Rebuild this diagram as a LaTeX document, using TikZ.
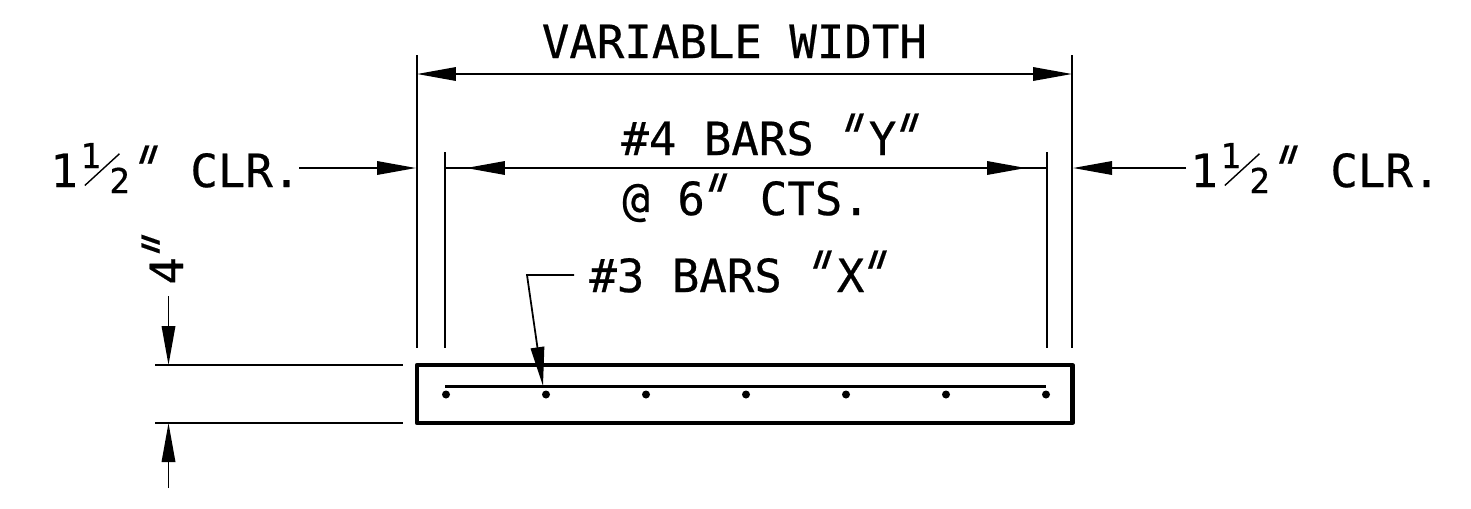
\documentclass[tikz,border=0pt]{standalone}
\usepackage{fontspec}
\setmainfont[FakeBold=0.5]{DejaVu Sans Mono}
\newfontfamily\inchfont[FakeSlant=0.5,FakeBold=0.3]{DejaVu Sans Mono}
\usetikzlibrary{arrows.meta}
\newcommand{\inchmark}{\makebox[0.55cm][c]{\raisebox{-0.15em}{\scalebox{1}[1.45]{\hspace{-0.62em}{\inchfont"}}}}}
\newcommand{\halfmark}{\makebox[1.15cm][l]{%
	\rlap{\hspace{0.05cm}\raisebox{0.38cm}{\fontsize{19.5}{19.5}\selectfont 1}}%
	\rlap{\hspace{0.13cm}\raisebox{0.02cm}{\rotatebox[origin=lb]{42.5}{\rule{0.94cm}{0.8pt}}}}%
	\rlap{\hspace{0.63cm}\raisebox{-0.12cm}{\fontsize{19.5}{19.5}\selectfont 2}}}}

\tikzset{
	dimline/.style={line width=1pt},
	barline/.style={line width=1.2pt},
	dimarrow/.style={line width=1pt, {Triangle[length=0.78cm,width=0.27cm]}-{Triangle[length=0.78cm,width=0.27cm]}},
	headarrow/.style={line width=1pt, -{Triangle[length=0.78cm,width=0.27cm]}},
	slab/.style={line width=2.4pt, line join=round},
	label/.style={inner sep=0pt, anchor=base west, font=\fontsize{26}{26}\selectfont}
}

\begin{document}
\begin{tikzpicture}[x=0.02cm, y=-0.02cm]
	%%%%% START %%%%%
	\useasboundingbox (0, 0) rectangle (1471, 508);

	\coordinate (slabA) at (417, 365);
	\coordinate (slabB) at (1072.5, 423);
	\coordinate (barA) at (445, 386.5);
	\coordinate (barB) at (1046, 386.5);

	\draw[slab] (slabA) rectangle (slabB);
	\draw[barline] (barA) -- (barB);
	\foreach \px [count=\n] in {446, 546, 646, 746, 846, 946, 1046} {
		\fill (\px, 394.5) circle (4) coordinate (dot\n);
	}

	% witness lines
	\coordinate (outerAtop) at (417, 55);
	\coordinate (outerAbot) at (417, 348);
	\coordinate (outerBtop) at (1072, 55);
	\coordinate (outerBbot) at (1072, 348);
	\coordinate (innerAtop) at (445, 152);
	\coordinate (innerAbot) at (445, 348);
	\coordinate (innerBtop) at (1047, 152);
	\coordinate (innerBbot) at (1047, 348);
	\draw[dimline] (outerAtop) -- (outerAbot);
	\draw[dimline] (outerBtop) -- (outerBbot);
	\draw[dimline] (innerAtop) -- (innerAbot);
	\draw[dimline] (innerBtop) -- (innerBbot);

	% overall width
	\node[label] (width) at (541.5, 58) {VARIABLE WIDTH};
	\coordinate (widthA) at (417, 74);
	\coordinate (widthB) at (1072, 74);
	\draw[dimarrow] (widthA) -- (widthB);

	% bar spacing
	\node[label] (barsY) at (621, 155) {\#4 BARS \inchmark Y\inchmark};
	\node[label] (spacing) at (622, 215) {@ 6\inchmark{} CTS.};
	\coordinate (spaceA) at (445, 168);
	\coordinate (spaceB) at (1047, 168);
	\coordinate (tipA) at (466, 168);
	\coordinate (tipB) at (1026, 168);
	\draw[dimline] (spaceA) -- (spaceB);
	\draw[dimarrow] (tipA) -- (tipB);

	% clear cover
	\node[label] (clrA) at (50, 187) {1\halfmark\inchmark{} CLR.};
	\node[label] (clrB) at (1190, 187) {1\halfmark\inchmark{} CLR.};
	\coordinate (clrAend) at (299, 168);
	\coordinate (clrAtip) at (416, 168);
	\coordinate (clrBend) at (1186, 168);
	\coordinate (clrBtip) at (1073, 168);
	\draw[headarrow] (clrAend) -- (clrAtip);
	\draw[headarrow] (clrBend) -- (clrBtip);

	% thickness
	\node[label, rotate=90] (depth) at (183, 285) {4\inchmark};
	\coordinate (depthAend) at (168.5, 296);
	\coordinate (depthAtip) at (168.5, 365);
	\coordinate (depthBend) at (168.5, 488);
	\coordinate (depthBtip) at (168.5, 423);
	\coordinate (extAa) at (155, 365);
	\coordinate (extAb) at (403, 365);
	\coordinate (extBa) at (155, 423);
	\coordinate (extBb) at (403, 423);
	\draw[dimline] (extAa) -- (extAb);
	\draw[dimline] (extBa) -- (extBb);
	\draw[headarrow] (depthAend) -- (depthAtip);
	\draw[headarrow] (depthBend) -- (depthBtip);

	% bar callout
	\node[label] (barsX) at (589, 292) {\#3 BARS \inchmark X\inchmark};
	\coordinate (calloutA) at (574, 275);
	\coordinate (calloutB) at (527, 275);
	\coordinate (calloutC) at (543, 386);
	\draw[headarrow] (calloutA) -- (calloutB) -- (calloutC);
	%%%%% END %%%%%
\end{tikzpicture}
\end{document}
